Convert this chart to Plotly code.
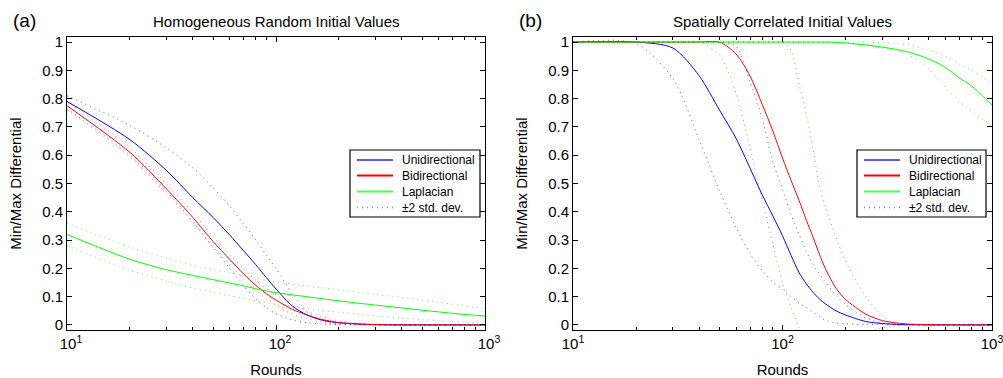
import plotly.graph_objects as go

# ---------------- data ----------------
# Panel (a): Homogeneous Random Initial Values
X_A = [10, 20, 30, 40, 50, 60, 70, 80, 90, 100, 120, 140, 160, 180, 200, 250, 300, 400, 500, 600, 700, 800, 900, 1000]
A_UNI = [0.79, 0.655, 0.545, 0.45, 0.38, 0.318, 0.262, 0.213, 0.167, 0.127, 0.066, 0.036, 0.02, 0.012, 0.008, 0.003, 0.001, 0, 0, 0, 0, 0, 0, 0]
A_UNI_HI = [0.81, 0.705, 0.625, 0.555, 0.485, 0.42, 0.357, 0.3, 0.247, 0.2, 0.108, 0.048, 0.021, 0.009, 0.004, 0.002, 0.001, 0, 0, 0, 0, 0, 0, 0]
A_UNI_LO = [0.765, 0.6, 0.472, 0.365, 0.275, 0.2, 0.138, 0.092, 0.06, 0.04, 0.017, 0.008, 0.004, 0.002, 0.001, 0, 0, 0, 0, 0, 0, 0, 0, 0]
A_BI = [0.775, 0.61, 0.48, 0.38, 0.295, 0.232, 0.18, 0.14, 0.11, 0.088, 0.055, 0.036, 0.022, 0.014, 0.008, 0.003, 0.001, 0, 0, 0, 0, 0, 0, 0]
A_BI_HI = [0.79, 0.627, 0.497, 0.398, 0.313, 0.25, 0.198, 0.158, 0.128, 0.106, 0.073, 0.05, 0.033, 0.022, 0.014, 0.006, 0.003, 0.001, 0, 0, 0, 0, 0, 0]
A_BI_LO = [0.76, 0.594, 0.463, 0.362, 0.277, 0.214, 0.162, 0.122, 0.092, 0.07, 0.037, 0.022, 0.012, 0.006, 0.003, 0.001, 0, 0, 0, 0, 0, 0, 0, 0]

X_A_LAP = [10, 20, 30, 40, 50, 60, 70, 80, 90, 100, 150, 200, 300, 400, 500, 600, 700, 800, 900, 1000]
A_LAP = [0.32, 0.232, 0.195, 0.175, 0.16, 0.148, 0.138, 0.128, 0.12, 0.114, 0.097, 0.085, 0.07, 0.06, 0.052, 0.046, 0.041, 0.037, 0.034, 0.031]
A_LAP_HI = [0.36, 0.275, 0.235, 0.21, 0.195, 0.185, 0.175, 0.165, 0.158, 0.152, 0.135, 0.124, 0.108, 0.097, 0.088, 0.08, 0.073, 0.067, 0.062, 0.058]
A_LAP_LO = [0.28, 0.193, 0.155, 0.13, 0.115, 0.103, 0.094, 0.086, 0.079, 0.073, 0.055, 0.045, 0.032, 0.024, 0.019, 0.015, 0.012, 0.01, 0.008, 0.006]

# Panel (b): Spatially Correlated Initial Values
X_B = [10, 20, 30, 40, 50, 60, 70, 80, 90, 100, 110, 120, 130, 140, 150, 160, 180, 200, 250, 300, 350, 400, 500, 600, 700, 800, 900, 1000]
B_UNI = [1.0, 1.0, 0.979, 0.881, 0.76, 0.66, 0.554, 0.46, 0.385, 0.315, 0.245, 0.185, 0.145, 0.115, 0.092, 0.075, 0.05, 0.035, 0.012, 0.005, 0.002, 0.001, 0, 0, 0, 0, 0, 0]
B_UNI_HI = [1.0, 1.0, 1.0, 1.0, 1.0, 0.985, 0.86, 0.73, 0.575, 0.48, 0.39, 0.32, 0.26, 0.215, 0.18, 0.152, 0.105, 0.072, 0.025, 0.007, 0.002, 0.001, 0, 0, 0, 0, 0, 0]
B_UNI_LO = [1.0, 0.995, 0.87, 0.655, 0.475, 0.345, 0.252, 0.192, 0.153, 0.125, 0.1, 0.078, 0.061, 0.045, 0.03, 0.017, 0.007, 0.004, 0.002, 0.001, 0, 0, 0, 0, 0, 0, 0, 0]
B_BI = [1.0, 1.0, 1.0, 1.0, 1.0, 0.958, 0.88, 0.78, 0.685, 0.59, 0.51, 0.44, 0.37, 0.31, 0.25, 0.2, 0.13, 0.09, 0.038, 0.015, 0.007, 0.003, 0.001, 0, 0, 0, 0, 0]
B_BI_HI = [1.0, 1.0, 1.0, 1.0, 1.0, 1.0, 1.0, 1.0, 1.0, 1.0, 0.97, 0.85, 0.745, 0.62, 0.49, 0.42, 0.31, 0.225, 0.1, 0.032, 0.003, 0, 0, 0, 0, 0, 0, 0]
B_BI_LO = [1.0, 1.0, 1.0, 1.0, 0.955, 0.82, 0.625, 0.44, 0.285, 0.15, 0.06, -0.01, -0.06, -0.09, -0.1, -0.1, -0.09, -0.07, -0.03, -0.01, -0.003, 0, 0, 0, 0, 0, 0, 0]
B_LAP = [1.0, 1.0, 1.0, 1.0, 1.0, 1.0, 1.0, 1.0, 1.0, 1.0, 1.0, 1.0, 1.0, 1.0, 1.0, 1.0, 0.999, 0.997, 0.99, 0.982, 0.974, 0.965, 0.94, 0.91, 0.873, 0.845, 0.81, 0.777]
B_LAP_HI = [1.0, 1.0, 1.0, 1.0, 1.0, 1.0, 1.0, 1.0, 1.0, 1.0, 1.0, 1.0, 1.0, 1.0, 1.0, 1.0, 1.0, 1.0, 1.0, 0.998, 0.995, 0.99, 0.972, 0.95, 0.922, 0.9, 0.875, 0.85]
B_LAP_LO = [1.0, 1.0, 1.0, 1.0, 1.0, 1.0, 1.0, 1.0, 1.0, 1.0, 1.0, 1.0, 1.0, 1.0, 1.0, 0.999, 0.998, 0.995, 0.988, 0.978, 0.97, 0.955, 0.905, 0.84, 0.79, 0.755, 0.727, 0.70]

Y_TICKS = [0, 0.1, 0.2, 0.3, 0.4, 0.5, 0.6, 0.7, 0.8, 0.9, 1]
Y_TICKTEXT = ["0", "0.1", "0.2", "0.3", "0.4", "0.5", "0.6", "0.7", "0.8", "0.9", "1"]
X_TICKS = [10, 100, 1000]
X_TICKTEXT = ["10<sup>1</sup>", "10<sup>2</sup>", "10<sup>3</sup>"]
X_MINOR = [20, 30, 40, 50, 60, 70, 80, 90, 200, 300, 400, 500, 600, 700, 800, 900]

TITLES = ["Homogeneous Random Initial Values", "Spatially Correlated Initial Values"]
PANEL_LABELS = ["(a)", "(b)"]
NAMES = ["Unidirectional", "Bidirectional", "Laplacian", "\u00b12 std. dev."]

# ---------------- style ----------------
FONT = "Liberation Sans, Arial, Helvetica, sans-serif"
BLUE, RED, GREEN = "#0000ff", "#ff0000", "#00ff00"
LEG_COLORS = ["#5a5aff", "#ff0000", "#4cff4c", "#8080ff"]
DOT = "1px,4px"
W, H = 1003, 378
SM = 0.8

fig = go.Figure()

def add_panel(xa, ya, xs_ab, uni, uni_hi, uni_lo, bi, bi_hi, bi_lo, xs_lap, lap, lap_hi, lap_lo):
    common = dict(xaxis=xa, yaxis=ya, mode="lines", showlegend=False)
    def dotted(x, y, color, op, name):
        return go.Scatter(x=x, y=y, name=name,
                          line=dict(color=color, width=1, dash=DOT, shape="spline", smoothing=SM),
                          opacity=op, **common)
    def solid(x, y, color, name):
        return go.Scatter(x=x, y=y, name=name,
                          line=dict(color=color, width=1, shape="spline", smoothing=SM), **common)
    fig.add_trace(dotted(xs_ab, uni_hi, BLUE, 0.65, NAMES[3]))
    fig.add_trace(dotted(xs_ab, uni_lo, BLUE, 0.65, NAMES[3]))
    fig.add_trace(dotted(xs_ab, bi_hi, RED, 0.55, NAMES[3]))
    fig.add_trace(dotted(xs_ab, bi_lo, RED, 0.55, NAMES[3]))
    fig.add_trace(dotted(xs_lap, lap_hi, GREEN, 0.7, NAMES[3]))
    fig.add_trace(dotted(xs_lap, lap_lo, GREEN, 0.7, NAMES[3]))
    fig.add_trace(solid(xs_ab, uni, BLUE, NAMES[0]))
    fig.add_trace(solid(xs_ab, bi, RED, NAMES[1]))
    fig.add_trace(solid(xs_lap, lap, GREEN, NAMES[2]))

add_panel("x", "y", X_A, A_UNI, A_UNI_HI, A_UNI_LO, A_BI, A_BI_HI, A_BI_LO,
          X_A_LAP, A_LAP, A_LAP_HI, A_LAP_LO)
add_panel("x2", "y2", X_B, B_UNI, B_UNI_HI, B_UNI_LO, B_BI, B_BI_HI, B_BI_LO,
          X_B, B_LAP, B_LAP_HI, B_LAP_LO)

axis_common = dict(showline=True, linecolor="black", linewidth=1, mirror="allticks",
                   ticks="inside", ticklen=5, tickcolor="black", showgrid=False,
                   zeroline=False, tickfont=dict(size=15, color="black", family=FONT),
                   automargin=False, ticklabeloverflow="allow")

xaxis_common = dict(type="log", range=[1, 3], tickmode="array", tickvals=X_TICKS, ticktext=X_TICKTEXT,
                    minor=dict(tickmode="array", tickvals=X_MINOR, ticks="inside", ticklen=3,
                               tickcolor="black", showgrid=False),
                    title=dict(text="Rounds", font=dict(size=15, color="black", family=FONT), standoff=13),
                    **axis_common)
yaxis_common = dict(range=[-0.018, 1.018], tickmode="array", tickvals=Y_TICKS, ticktext=Y_TICKTEXT,
                    title=dict(text="Min/Max Differential", font=dict(size=15, color="black", family=FONT), standoff=16),
                    **axis_common)

dom_a = [67 / W, 485 / W]
dom_b = [573 / W, 992 / W]
dom_y = [1 - 330 / H, 1 - 37 / H]

fig.update_layout(
    width=W, height=H,
    margin=dict(l=0, r=0, t=0, b=0),
    paper_bgcolor="white", plot_bgcolor="white",
    font=dict(family=FONT, color="black"),
    xaxis=dict(domain=dom_a, anchor="y", ticklabelshift=4, **xaxis_common),
    yaxis=dict(domain=dom_y, anchor="x", **yaxis_common),
    xaxis2=dict(domain=dom_b, anchor="y2", ticklabelshift=0, **xaxis_common),
    yaxis2=dict(domain=dom_y, anchor="x2", **yaxis_common),
    showlegend=False,
)

def px(x):
    return x / W

def py(y):
    return 1 - y / H

ann = []
shapes = []
for label, title, x0, dom in [(PANEL_LABELS[0], TITLES[0], 11, dom_a), (PANEL_LABELS[1], TITLES[1], 517, dom_b)]:
    ann.append(dict(text=label, x=px(x0), y=py(20), xref="paper", yref="paper",
                    xanchor="left", yanchor="middle", showarrow=False,
                    font=dict(size=19, color="black", family=FONT)))
    ann.append(dict(text=title, x=(dom[0] + dom[1]) / 2, y=py(22), xref="paper", yref="paper",
                    xanchor="center", yanchor="middle", showarrow=False,
                    font=dict(size=15, color="black", family=FONT)))

# legend boxes (one per panel), drawn in paper coordinates
ROW_Y = [160, 175.5, 191.5, 207.5]
for bx0, bx1 in [(350, 480), (857, 986)]:
    shapes.append(dict(type="rect", xref="paper", yref="paper", x0=px(bx0), x1=px(bx1),
                       y0=py(150), y1=py(217), line=dict(color="black", width=1.2),
                       fillcolor="white", layer="above"))
    for i, name in enumerate(NAMES):
        dash = "solid" if i < 3 else "1px,4px"
        shapes.append(dict(type="line", xref="paper", yref="paper",
                           x0=px(bx0 + 7), x1=px(bx0 + 43), y0=py(ROW_Y[i]), y1=py(ROW_Y[i]),
                           line=dict(color=LEG_COLORS[i], width=2 if i < 3 else 1.3, dash=dash),
                           layer="above"))
        ann.append(dict(text=name, x=px(bx0 + 50), y=py(ROW_Y[i]), xref="paper", yref="paper",
                        xanchor="left", yanchor="middle", showarrow=False,
                        font=dict(size=12, color="black", family=FONT)))

fig.update_layout(annotations=ann, shapes=shapes)

fig.write_html("out.html")
